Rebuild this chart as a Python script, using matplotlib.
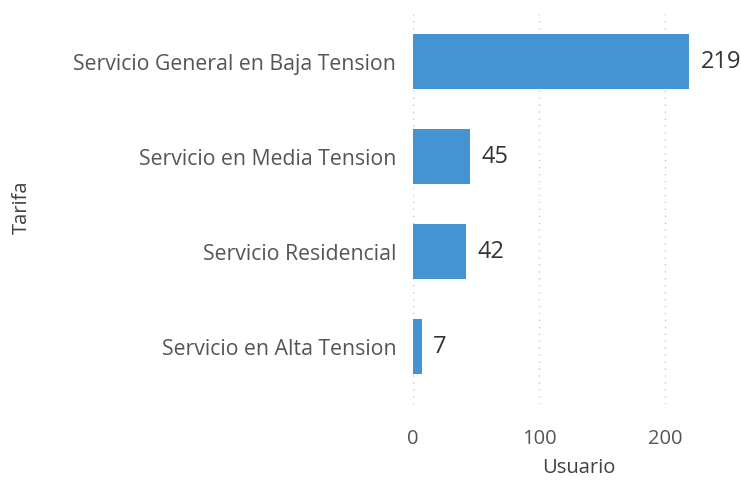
import matplotlib.pyplot as plt

plt.rcParams['font.family'] = ['Open Sans', 'DejaVu Sans']

# Data
tarifas = ['Servicio General en Baja Tension', 'Servicio en Media Tension',
           'Servicio Residencial', 'Servicio en Alta Tension']
usuarios = [219, 45, 42, 7]
xticks = [0, 100, 200]

fig = plt.figure(figsize=(7.41, 4.81), dpi=100)
ax = fig.add_axes([413 / 741, 1 - 405 / 481, 1 - 413 / 741, 390 / 481])

ypos = list(range(len(tarifas)))
bars = ax.barh(ypos, usuarios, height=0.58, color='#4493D3')
ax.set_ylim(len(tarifas) - 0.5 + 10 / 95, -0.5)
ax.set_xlim(0, 260)

# value labels
for bar, v in zip(bars, usuarios):
    ax.text(bar.get_width() + 9, bar.get_y() + bar.get_height() / 2, str(v),
            va='center', ha='left', fontsize=17, color='#333333')

ax.set_yticks(ypos)
ax.set_yticklabels(tarifas, fontsize=15.3, color='#555555')
ax.set_xticks(xticks)
ax.set_xticklabels([str(t) for t in xticks], fontsize=14.5, color='#555555')
ax.tick_params(length=0)
ax.tick_params(axis='x', pad=17)
ax.tick_params(axis='y', pad=12)

ax.grid(axis='x', linestyle=(0, (1, 4)), color='#C8C8C8', linewidth=1)
ax.set_axisbelow(True)
for s in ax.spines.values():
    s.set_visible(False)

fig.text(579 / 741, 1 - 468 / 481, 'Usuario', fontsize=14.5, color='#404040',
         ha='center', va='center')
fig.text(22 / 741, 1 - 207 / 481, 'Tarifa', rotation=90, fontsize=14.5,
         color='#404040', ha='center', va='center')

fig.savefig('out.png', dpi=100)
